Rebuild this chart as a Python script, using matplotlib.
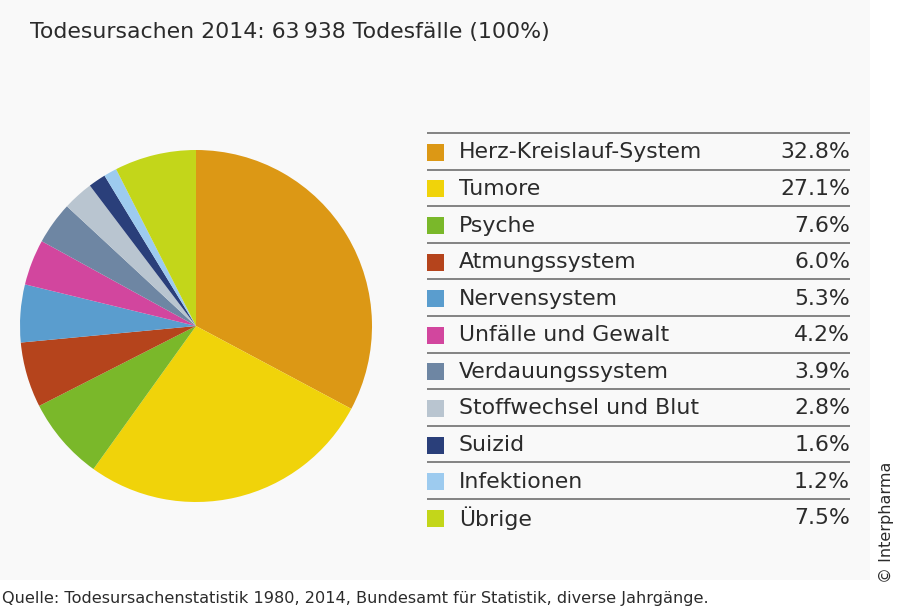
import matplotlib.pyplot as plt
from matplotlib.patches import Rectangle

# Daten
kategorien = ['Herz-Kreislauf-System', 'Tumore', 'Psyche', 'Atmungssystem',
              'Nervensystem', 'Unfälle und Gewalt', 'Verdauungssystem',
              'Stoffwechsel und Blut', 'Suizid', 'Infektionen', 'Übrige']
anteile = [32.8, 27.1, 7.6, 6.0, 5.3, 4.2, 3.9, 2.8, 1.6, 1.2, 7.5]
farben = ['#dc9815', '#f0d30a', '#7ab82a', '#b5441c', '#5a9dce', '#d2469e',
          '#6e86a3', '#b9c5d0', '#2a3f7a', '#9dcbef', '#c3d61a']
titel = 'Todesursachen 2014: 63\u2009938 Todesfälle (100%)'
quelle = 'Quelle: Todesursachenstatistik 1980, 2014, Bundesamt für Statistik, diverse Jahrgänge.'

plt.rcParams['font.family'] = ['DejaVu Sans']
W, H = 900, 611
fig = plt.figure(figsize=(W / 100, H / 100), dpi=100)
fig.patch.set_facecolor('white')
txt = '#2b2b2b'

# Hintergrund + Text-Ebene in Pixelkoordinaten
bg = fig.add_axes([0, 0, 1, 1])
bg.set_xlim(0, W)
bg.set_ylim(H, 0)
bg.axis('off')
bg.add_patch(Rectangle((0, 0), 870, 580, facecolor='#f9f9f9', edgecolor='none'))
bg.text(30, 32, titel, fontsize=15.8, color=txt, va='center', ha='left')
bg.text(2, 598, quelle, fontsize=11.6, color=txt, va='center', ha='left')
bg.text(886, 522, '© Interpharma', fontsize=11.5, color=txt, rotation=90,
        va='center', ha='center')

# Tabelle
x0, x1 = 427, 850
y_top, row_h = 133, 36.6
for i, (k, a, c) in enumerate(zip(kategorien, anteile, farben)):
    y = y_top + i * row_h
    bg.plot([x0, x1], [y, y], color='#7a7a7a', lw=1.3, solid_capstyle='butt')
    yc = y + row_h / 2 + 1
    bg.add_patch(Rectangle((x0, yc - 8.5), 17, 17, facecolor=c, edgecolor='none'))
    bg.text(459, yc, k, fontsize=15.8, color=txt, va='center', ha='left')
    bg.text(x1, yc, f'{a:.1f}%', fontsize=15.8, color=txt, va='center', ha='right')

# Kreisdiagramm
cx, cy, r = 196, 326, 176
ax = fig.add_axes([(cx - r) / W, 1 - (cy + r) / H, 2 * r / W, 2 * r / H])
ax.pie(anteile, colors=farben, startangle=90, counterclock=False,
       wedgeprops={'linewidth': 0})
ax.set_xlim(-1, 1)
ax.set_ylim(-1, 1)
ax.set_aspect('auto')
ax.axis('off')

fig.savefig('out.png', dpi=100)
